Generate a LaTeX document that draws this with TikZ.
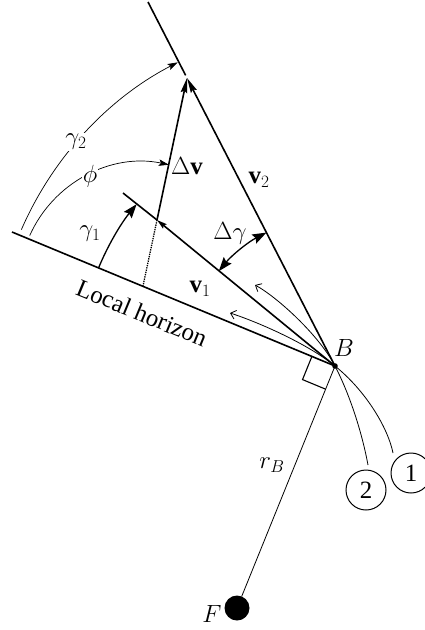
\documentclass[tikz,border=0pt]{standalone}
\usepackage{fontspec}
\setmainfont{Liberation Serif}
\usetikzlibrary{calc,arrows.meta}
\DeclareMathSizes{24.88}{24.88}{17.28}{14.4}
\tikzset{
  vec/.style={line width=1.6pt},
  thinarc/.style={line width=0.7pt},
  traj/.style={line width=0.8pt},
  lbl/.style={font=\Huge, inner sep=1pt},
  vtip/.tip={Stealth[length=15pt,width=6.5pt,inset=2pt]},
  vonetip/.tip={Stealth[length=10pt,width=5.5pt,inset=1.5pt]},
  bigtip/.tip={Stealth[length=14pt,width=10pt,inset=2pt]},
  smalltip/.tip={Stealth[length=10pt,width=6.5pt,inset=2pt]},
  barbtip/.tip={Straight Barb[length=5pt,width=9pt]}
}
\begin{document}
\begin{tikzpicture}[x=1pt,y=-1pt]
\useasboundingbox (0,0) rectangle (425,630);
% key points
\coordinate (B) at (335,366);
\coordinate (H) at (12,232);
\coordinate (V1e) at (123,193);
\coordinate (J) at (157,220);
\coordinate (T) at (187,78);
\coordinate (V2e) at (148,2);
\coordinate (D) at (143,286);
\coordinate (o1) at (393,453);
\coordinate (o2) at (368,465);
\coordinate (a1) at (230,313);
\coordinate (a2) at (255,285);
\node[circle, fill, inner sep=0pt, minimum size=25pt] (F) at (237,608) {};
\node[circle, draw, line width=1pt, inner sep=0pt, minimum size=40pt, font=\Huge] (c1) at (411,473) {1};
\node[circle, draw, line width=1pt, inner sep=0pt, minimum size=40pt, font=\Huge] (c2) at (366,490) {2};

% radius and right angle
\draw[line width=0.8pt] (B) -- (F);
\coordinate (sq1) at ($(B)!25pt!(H)$);
\coordinate (sq3) at ($(B)!25pt!(F)$);
\coordinate (sq2) at ($(sq1)+(sq3)-(B)$);
\draw[line width=1.1pt] (sq1) -- (sq2) -- (sq3);

% trajectories
\draw[traj, -barbtip] (o1) .. controls (388,428) and (366,391) .. (B)
      .. controls (308,344) and (258,322) .. (a1);
\draw[traj, -barbtip] (o2) .. controls (362.6,435.6) and (351,397) .. (B)
      .. controls (319,335) and (277,297) .. (a2);

% vectors
\draw[vec] (H) -- (B);
\draw[vec, -vonetip] (B) -- (J);
\draw[vec] (J) -- (V1e);
\draw[vec, -vtip] (B) -- (T);
\draw[vec, shorten <=3pt] (T) -- (V2e);
\draw[vec, -vtip] (J) -- (T);
\draw[line width=1.3pt, densely dotted] (J) -- (D);

% angle arcs
\draw[thinarc, -smalltip] ($(B)+(203.5:342)$) arc[start angle=203.5, end angle=242.6, radius=342];
\draw[thinarc, -smalltip] ($(D)+(204:124)$) arc[start angle=204, end angle=282, radius=124];
\draw[line width=1.3pt, -bigtip] ($(B)+(202.53:256)$) arc[start angle=202.53, end angle=219.21, radius=256];
\draw[line width=1.3pt, bigtip-bigtip] ($(B)+(219.21:150)$) arc[start angle=219.21, end angle=242.8, radius=150];

% B dot
\fill (B) circle (2.8pt);

% labels
\node[lbl, fill=white] (lg2) at (76,142) {$\gamma_2$};
\node[lbl, fill=white] (lphi) at (90,176) {$\phi$};
\node[lbl] (ldv) at (187,166) {$\Delta\mathbf{v}$};
\node[lbl] (lv2) at (259,180) {$\mathbf{v}_2$};
\node[lbl] (ldg) at (230,233) {$\Delta\gamma$};
\node[lbl] (lg1) at (90,234) {$\gamma_1$};
\node[lbl] (lv1) at (200,289) {$\mathbf{v}_1$};
\node[lbl, rotate=-22.5] (lh) at (142,313) {Local horizon};
\node[lbl] (lB) at (344,348) {$B$};
\node[lbl] (lrB) at (272,465) {$r_B$};
\node[lbl] (lF) at (212,614) {$F$};
\end{tikzpicture}
\end{document}
